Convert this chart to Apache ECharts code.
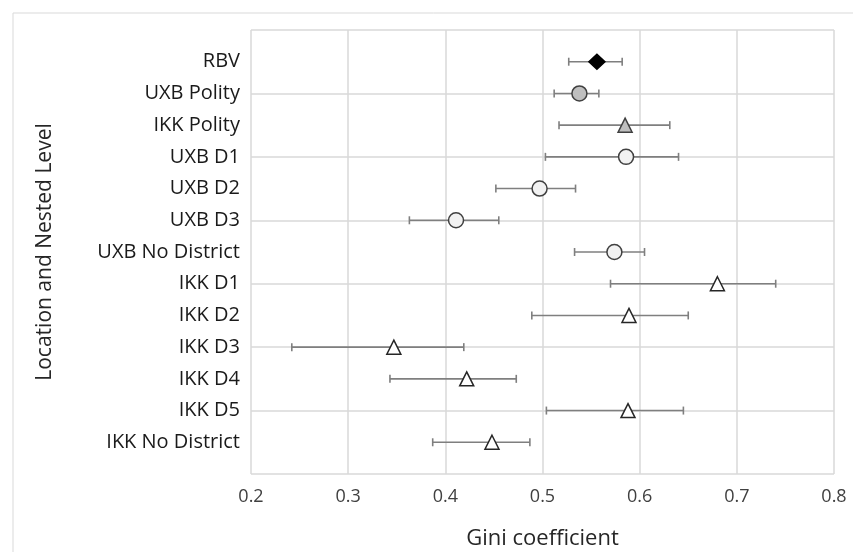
<!DOCTYPE html>
<html>
<head>
<meta charset="utf-8">
<script src="https://cdn.jsdelivr.net/npm/echarts@6/dist/echarts.min.js"></script>
<style>
html,body{margin:0;padding:0;background:#fff;}
#chart{width:853px;height:552px;}
</style>
</head>
<body>
<div id="chart"></div>
<script>
// Categories, listed top to bottom
const categories = ['RBV','UXB Polity','IKK Polity','UXB D1','UXB D2','UXB D3','UXB No District','IKK D1','IKK D2','IKK D3','IKK D4','IKK D5','IKK No District'];
// Marker group for each category
const groups = ['rbv','uxbPolity','ikkPolity','uxb','uxb','uxb','uxb','ikk','ikk','ikk','ikk','ikk','ikk'];
// Gini coefficient estimates
const gini = [0.556, 0.538, 0.585, 0.586, 0.497, 0.411, 0.574, 0.680, 0.589, 0.347, 0.422, 0.588, 0.448];
// Lower and upper bounds of the error bars
const lower = [0.527, 0.512, 0.517, 0.503, 0.452, 0.363, 0.533, 0.570, 0.489, 0.242, 0.343, 0.504, 0.387];
const upper = [0.582, 0.558, 0.631, 0.640, 0.534, 0.455, 0.605, 0.740, 0.650, 0.419, 0.473, 0.645, 0.487];
// x tick labels
const xTicks = ['0.2','0.3','0.4','0.5','0.6','0.7','0.8'];

const n = categories.length;
const rowPos = categories.map((c, i) => n - i); // 13 .. 1
const labelByPos = {};
rowPos.forEach((p, i) => { labelByPos[p] = categories[i]; });

const styles = {
  rbv:       {symbol: 'diamond',  symbolSize: [16, 15], color: '#000000', border: '#000000'},
  uxbPolity: {symbol: 'circle',   symbolSize: 15, color: '#bfbfbf', border: '#404040'},
  ikkPolity: {symbol: 'triangle', symbolSize: 14, color: '#bfbfbf', border: '#404040'},
  uxb:       {symbol: 'circle',   symbolSize: 15, color: '#f2f2f2', border: '#404040'},
  ikk:       {symbol: 'triangle', symbolSize: 14, color: '#ffffff', border: '#262626'}
};

const errData = categories.map((c, i) => [lower[i], upper[i], rowPos[i]]);

const scatterSeries = Object.keys(styles).map(g => {
  const s = styles[g];
  return {
    type: 'scatter',
    name: g,
    symbol: s.symbol,
    symbolSize: s.symbolSize,
    z: 5,
    itemStyle: {color: s.color, borderColor: s.border, borderWidth: 1.5, opacity: 1},
    emphasis: {disabled: true},
    data: categories.map((c, i) => groups[i] === g ? [gini[i], rowPos[i]] : null).filter(d => d)
  };
});

const font = '"Open Sans", "Noto Sans", sans-serif';

const option = {
  animation: false,
  backgroundColor: '#ffffff',
  graphic: [{
    type: 'rect',
    shape: {x: 13, y: 13, width: 900, height: 600},
    style: {fill: 'none', stroke: '#d9d9d9', lineWidth: 1},
    silent: true,
    z: -10
  }],
  grid: {left: 251, right: 19, top: 30, bottom: 78, outerBoundsMode: 'none', containLabel: false},
  xAxis: {
    type: 'value',
    min: 0.2, max: 0.8, interval: 0.1,
    name: 'Gini coefficient',
    nameLocation: 'middle',
    nameGap: 54,
    nameTextStyle: {fontFamily: font, fontSize: 22, color: '#262626'},
    axisLine: {show: false},
    axisTick: {show: false},
    axisLabel: {
      margin: 14,
      fontFamily: font, fontSize: 18, color: '#404040',
      formatter: v => xTicks[Math.round((v - 0.2) * 10)] || ''
    },
    splitLine: {show: true, lineStyle: {color: '#d9d9d9', width: 1.5}}
  },
  yAxis: {
    type: 'value',
    min: 0, max: 14, interval: 1,
    name: 'Location and Nested Level',
    nameLocation: 'middle',
    nameGap: 195,
    nameTextStyle: {fontFamily: font, fontSize: 21, color: '#262626'},
    axisLine: {show: false},
    axisTick: {show: false},
    axisLabel: {
      margin: 11,
      fontFamily: font, fontSize: 20, color: '#1a1a1a',
      padding: [0, 0, 5, 0],
      formatter: v => labelByPos[v] || ''
    },
    splitLine: {show: true, lineStyle: {color: ['#d9d9d9', 'rgba(0,0,0,0)'], width: 1.5}}
  },
  series: [{
    type: 'custom',
    name: 'error',
    z: 2,
    silent: true,
    data: errData,
    renderItem: function (params, api) {
      const y = api.value(2);
      const p0 = api.coord([api.value(0), y]);
      const p1 = api.coord([api.value(1), y]);
      const h = 4;
      const st = {stroke: '#7f7f7f', lineWidth: 1.6};
      return {
        type: 'group',
        children: [
          {type: 'line', shape: {x1: p0[0], y1: p0[1], x2: p1[0], y2: p1[1]}, style: st},
          {type: 'line', shape: {x1: p0[0], y1: p0[1] - h, x2: p0[0], y2: p0[1] + h}, style: st},
          {type: 'line', shape: {x1: p1[0], y1: p1[1] - h, x2: p1[0], y2: p1[1] + h}, style: st}
        ]
      };
    }
  }].concat(scatterSeries)
};

const chart = echarts.init(document.getElementById('chart'), null, {renderer: 'canvas'});
chart.setOption(option);
</script>
</body>
</html>
